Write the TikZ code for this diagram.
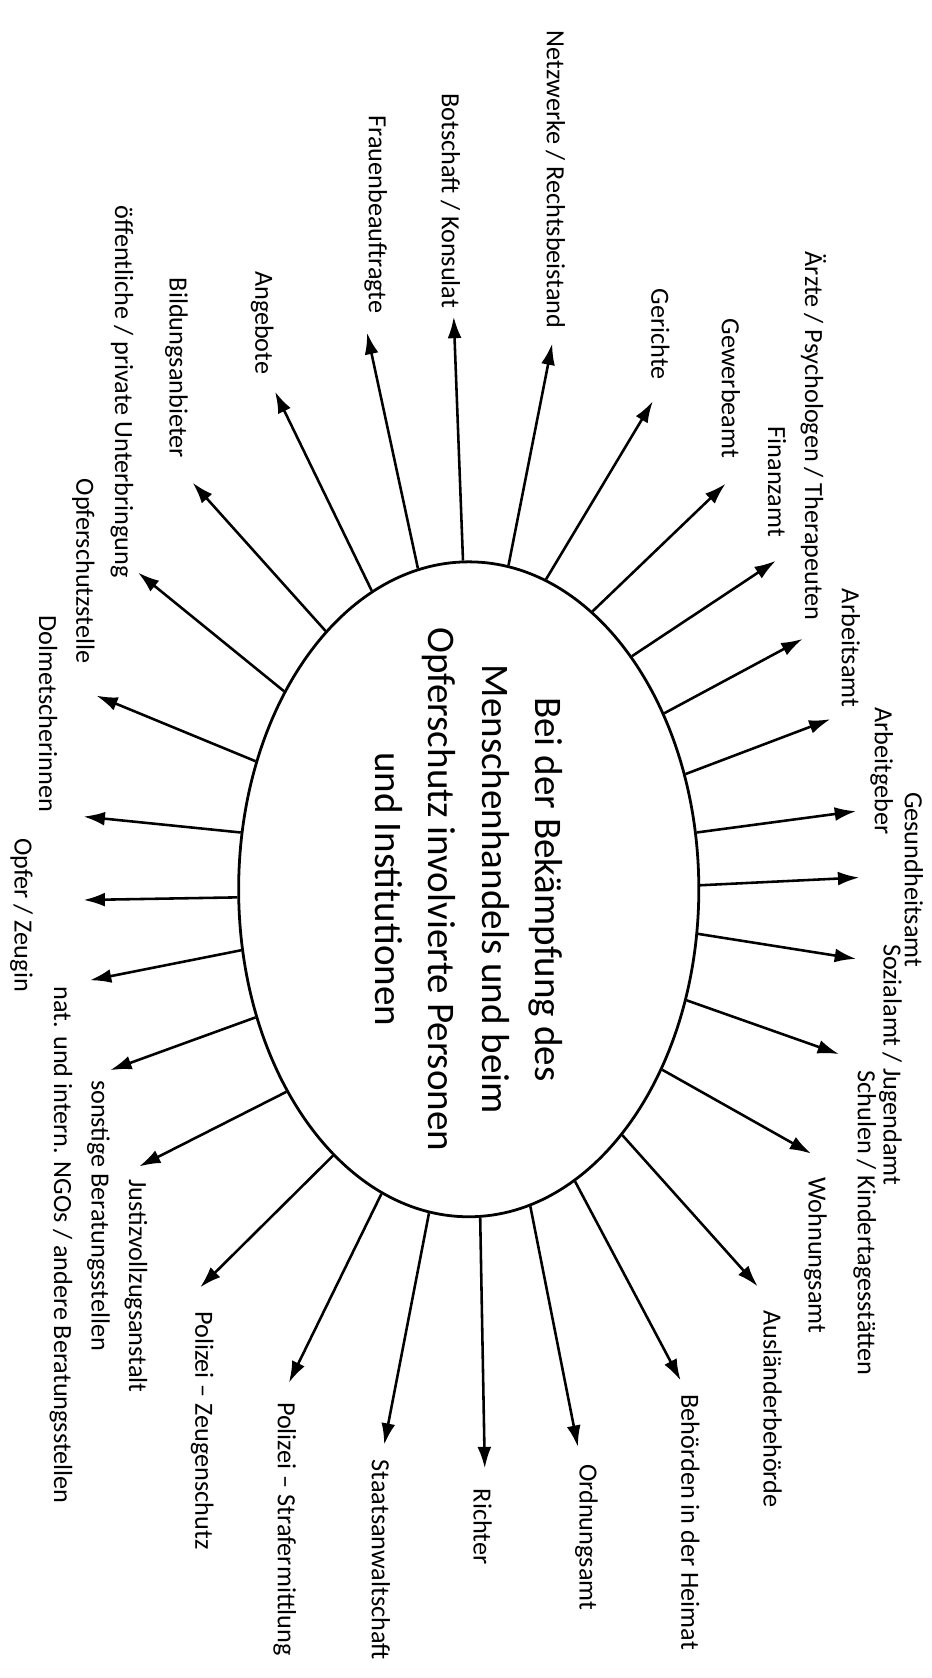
\documentclass[tikz,border=0pt]{standalone}
\usepackage{fontspec}
\setmainfont{Carlito}
\usetikzlibrary{shapes.geometric,arrows.meta}
\begin{document}
\begin{tikzpicture}[x=1pt,y=-1pt,
  lbl/.style={rotate=-90, inner sep=0pt, font=\fontsize{24.5}{29}\selectfont},
  arr/.style={line width=2.4pt, -{Latex[length=20pt,width=13pt]}},
  hub/.style={draw, ellipse, line width=2.6pt, minimum width=430pt, minimum height=612pt, inner sep=0pt}]
\fill[white] (0,0) rectangle (870,1568);
\useasboundingbox (0,0) rectangle (870,1568);
\node[hub] (e) at (438,831) {};
\node[rotate=-90, align=center, inner sep=0pt, font=\fontsize{36.5}{50}\selectfont] (title) at (438,831)
  {Bei der Bekämpfung des\\Menschenhandels und beim\\Opferschutz involvierte Personen\\und Institutionen};
% arrow tips
\coordinate (t1) at (129,535);
\coordinate (t2) at (180,451);
\coordinate (t3) at (257,366);
\coordinate (t4) at (343,311);
\coordinate (t5) at (424,296);
\coordinate (t6) at (516,321);
\coordinate (t7) at (610,375);
\coordinate (t8) at (678,452);
\coordinate (t9) at (725,524);
\coordinate (t10) at (750,597);
\coordinate (t11) at (776,672);
\coordinate (t12) at (800,758);
\coordinate (t13) at (803,820);
\coordinate (t14) at (800,896);
\coordinate (t15) at (784,985);
\coordinate (t16) at (758,1078);
\coordinate (t17) at (708,1202);
\coordinate (t18) at (636,1290);
\coordinate (t19) at (540,1352);
\coordinate (t20) at (453,1372);
\coordinate (t21) at (359,1350);
\coordinate (t22) at (270,1292);
\coordinate (t23) at (187,1203);
\coordinate (t24) at (130,1090);
\coordinate (t25) at (103,1000);
\coordinate (t26) at (84,916);
\coordinate (t27) at (78,841);
\coordinate (t28) at (78,763);
\coordinate (t29) at (90,650);
\foreach \a/\t in {133.9/t1, 119.5/t2, 108.2/t3, 99.3/t4, 91.7/t5, 83.8/t6, 76.6/t7,
  66.4/t8, 55.8/t9, 42.9/t10, 28.7/t11, 14.4/t12, 1.6/t13, -11.2/t14, -27.8/t15,
  -43.7/t16, -58.9/t17, -70.3/t18, -79.3/t19, -88.7/t20, -97.1/t21, -106.8/t22,
  -117/t23, -132.6/t24, -149.6/t25, -165/t26, -178.2/t27, 166.2/t28, 149.6/t29}
  \draw[arr] (e.\a) -- (\t);
% labels
\node[lbl, anchor=east] (l1) at (114,540) {öffentliche / private Unterbringung};
\node[lbl, anchor=east] (l2) at (165,428) {Bildungsanbieter};
\node[lbl, anchor=east] (l3) at (245,350) {Angebote};
\node[lbl, anchor=east] (l4) at (351,293) {Frauenbeauftragte};
\node[lbl, anchor=east] (l5) at (421,288) {Botschaft / Konsulat};
\node[lbl, anchor=east] (l6) at (519,307) {Netzwerke / Rechtsbeistand};
\node[lbl, anchor=east] (l7) at (617,355) {Gerichte};
\node[lbl, anchor=east] (l8) at (683,428) {Gewerbeamt};
\node[lbl, anchor=east] (l9) at (726,502) {Finanzamt};
\node[lbl, anchor=east] (l10) at (760,580) {Ärzte / Psychologen / Therapeuten};
\node[lbl, anchor=east] (l11) at (795,661) {Arbeitsamt};
\node[lbl, anchor=east] (l12) at (824,780) {Arbeitgeber};
\node[lbl, anchor=west] (l13) at (854,740) {Gesundheitsamt};
\node[lbl, anchor=west] (l14) at (832,882) {Sozialamt / Jugendamt};
\node[lbl, anchor=west] (l15) at (808,1000) {Schulen / Kindertagesstätten};
\node[lbl, anchor=west] (l16) at (762,1100) {Wohnungsamt};
\node[lbl, anchor=west] (l17) at (722,1224) {Ausländerbehörde};
\node[lbl, anchor=west] (l18) at (645,1303) {Behörden in der Heimat};
\node[lbl, anchor=west] (l19) at (548,1368) {Ordnungsamt};
\node[lbl, anchor=west] (l20) at (451,1391) {Richter};
\node[lbl, anchor=west] (l21) at (356,1364) {Staatsanwaltschaft};
\node[lbl, anchor=west] (l22) at (266,1310) {Polizei – Strafermittlung};
\node[lbl, anchor=west] (l23) at (189,1225) {Polizei – Zeugenschutz};
\node[lbl, anchor=west] (l24) at (127,1102) {Justizvollzugsanstalt};
\node[lbl, anchor=west] (l25) at (92,1009) {sonstige Beratungsstellen};
\node[lbl, anchor=west] (l26) at (57,922) {nat. und intern. NGOs / andere Beratungsstellen};
\node[lbl, anchor=east] (l27) at (20,927) {Opfer / Zeugin};
\node[lbl, anchor=west] (l28) at (45,575) {Dolmetscherinnen};
\node[lbl, anchor=east] (l29) at (78,620) {Opferschutzstelle};
\end{tikzpicture}
\end{document}
